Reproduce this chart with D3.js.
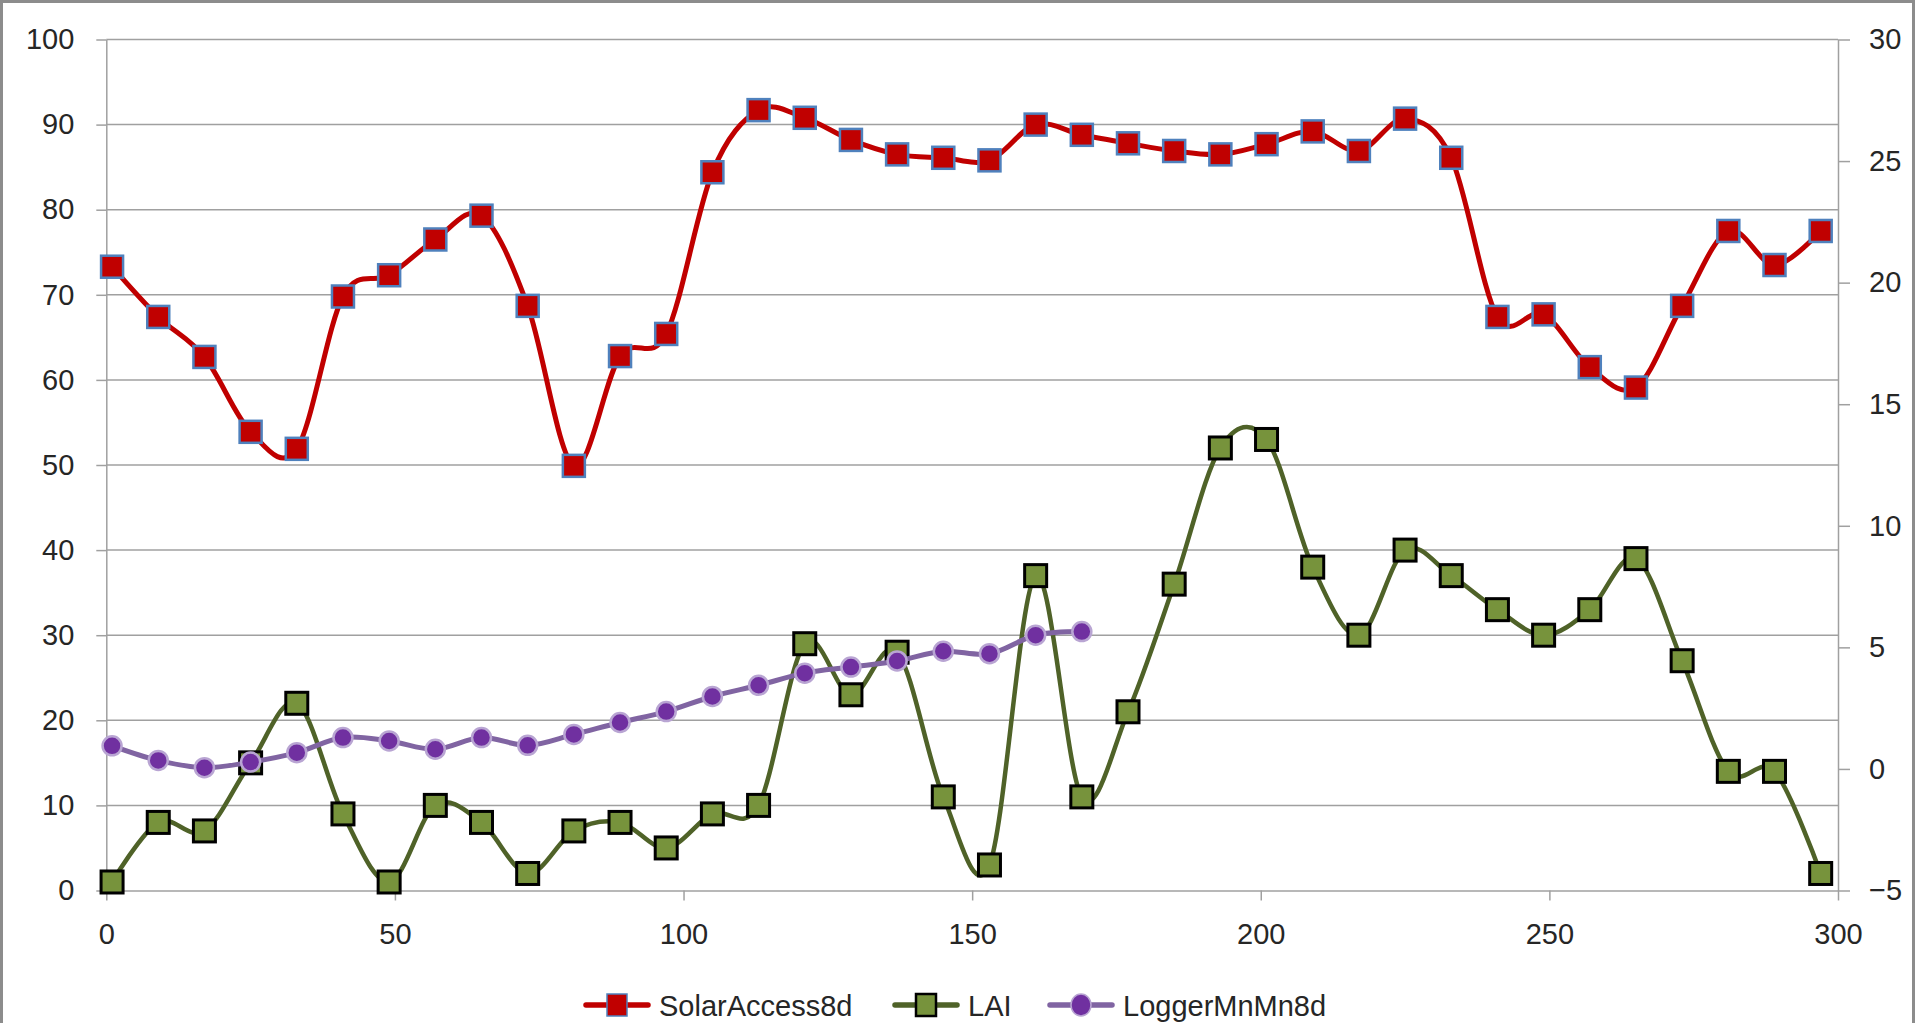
<!DOCTYPE html>
<html>
<head>
<meta charset="utf-8">
<script src="https://cdn.jsdelivr.net/npm/d3@7"></script>
<style>
  html, body { margin: 0; padding: 0; background: #ffffff; }
  svg { display: block; }
  text { font-family: "Liberation Sans", Arial, sans-serif; fill: #262626; }
</style>
</head>
<body>
<script>
// Day of year for each 8-day composite
const days = [1, 9, 17, 25, 33, 41, 49, 57, 65, 73, 81, 89, 97, 105, 113, 121, 129, 137, 145,
  153, 161, 169, 177, 185, 193, 201, 209, 217, 225, 233, 241, 249, 257, 265, 273, 281, 289, 297];

// Left axis series
const solarAccess8d = [73.3, 67.4, 62.7, 53.9, 51.9, 69.8, 72.3, 76.5, 79.3, 68.7, 49.9, 62.8,
  65.4, 84.4, 91.7, 90.8, 88.2, 86.5, 86.1, 85.8, 90.0, 88.8, 87.8, 86.9, 86.5, 87.7, 89.2,
  86.9, 90.7, 86.1, 67.4, 67.7, 61.5, 59.1, 68.7, 77.5, 73.5, 77.5];
const lai = [1, 8, 7, 15, 22, 9, 1, 10, 8, 2, 7, 8, 5, 9, 10, 29, 23, 28, 11, 3, 37, 11, 21, 36,
  52, 53, 38, 30, 40, 37, 33, 30, 33, 39, 27, 14, 14, 2];

// Right axis series (logger record ends at day 169)
const loggerMnMn8d = [0.95, 0.35, 0.05, 0.28, 0.67, 1.29, 1.15, 0.81, 1.29, 0.97, 1.42, 1.91,
  2.36, 2.98, 3.44, 3.94, 4.19, 4.44, 4.84, 4.74, 5.50, 5.65];

const xTicks = [0, 50, 100, 150, 200, 250, 300];
const leftTicks = [0, 10, 20, 30, 40, 50, 60, 70, 80, 90, 100];
const rightTicks = [-5, 0, 5, 10, 15, 20, 25, 30];
const seriesNames = ["SolarAccess8d", "LAI", "LoggerMnMn8d"];

const W = 1915, H = 1023;
const plot = { left: 106.3, right: 1838, top: 39.5, bottom: 890.5 };

const svg = d3.select("body").append("svg").attr("width", W).attr("height", H);

// Chart frame
svg.append("rect")
  .attr("x", 1.5).attr("y", 1.5).attr("width", W - 3).attr("height", H + 20)
  .attr("fill", "none").attr("stroke", "#8c8c8c").attr("stroke-width", 3);

const x = d3.scaleLinear().domain([0, 300]).range([plot.left, plot.right]);
const yL = d3.scaleLinear().domain([0, 100]).range([plot.bottom, plot.top]);
const yR = d3.scaleLinear().domain([-5, 30]).range([plot.bottom, plot.top]);

const gridColor = "#a0a0a0";

// Horizontal gridlines
svg.append("g").selectAll("line").data(leftTicks.filter(d => d > 0)).join("line")
  .attr("x1", plot.left).attr("x2", plot.right)
  .attr("y1", d => yL(d)).attr("y2", d => yL(d))
  .attr("stroke", gridColor).attr("stroke-width", 1.5);

function styleAxis(g) {
  g.select(".domain").attr("stroke", gridColor).attr("stroke-width", 1.5);
  g.selectAll(".tick line").attr("stroke", gridColor).attr("stroke-width", 1.5);
  g.selectAll(".tick text")
    .attr("fill", "#262626")
    .style("font-family", '"Liberation Sans", Arial, sans-serif')
    .style("font-size", "29px");
}

svg.append("g")
  .attr("transform", `translate(${plot.left},0)`)
  .call(d3.axisLeft(yL).tickValues(leftTicks).tickSize(10).tickSizeOuter(0).tickPadding(22))
  .call(styleAxis);

svg.append("g")
  .attr("transform", `translate(${plot.right},0)`)
  .call(d3.axisRight(yR).tickValues(rightTicks).tickSize(12).tickSizeOuter(0).tickPadding(19))
  .call(styleAxis);

svg.append("g")
  .attr("transform", `translate(0,${plot.bottom})`)
  .call(d3.axisBottom(x).tickValues(xTicks).tickSize(10).tickSizeOuter(0).tickPadding(23))
  .call(styleAxis);

const curve = d3.curveCardinal.tension(0);

const styles = {
  solar: { line: "#c00000", fill: "#c00000", stroke: "#4f81bd", width: 5 },
  lai: { line: "#4f6228", fill: "#77933c", stroke: "#000000", width: 4.5 },
  logger: { line: "#8064a2", fill: "#7030a0", stroke: "#b9a5d3", width: 5 }
};

// SolarAccess8d
const solarPts = days.map((d, i) => [d, solarAccess8d[i]]);
svg.append("path")
  .attr("d", d3.line().x(d => x(d[0])).y(d => yL(d[1])).curve(curve)(solarPts))
  .attr("fill", "none").attr("stroke", styles.solar.line).attr("stroke-width", styles.solar.width);
svg.append("g").selectAll("rect").data(solarPts).join("rect")
  .attr("x", d => x(d[0]) - 11).attr("y", d => yL(d[1]) - 11)
  .attr("width", 22).attr("height", 22)
  .attr("fill", styles.solar.fill).attr("stroke", styles.solar.stroke).attr("stroke-width", 2.5);

// LAI
const laiPts = days.map((d, i) => [d, lai[i]]);
svg.append("path")
  .attr("d", d3.line().x(d => x(d[0])).y(d => yL(d[1])).curve(curve)(laiPts))
  .attr("fill", "none").attr("stroke", styles.lai.line).attr("stroke-width", styles.lai.width);
svg.append("g").selectAll("rect").data(laiPts).join("rect")
  .attr("x", d => x(d[0]) - 11).attr("y", d => yL(d[1]) - 11)
  .attr("width", 22).attr("height", 22)
  .attr("fill", styles.lai.fill).attr("stroke", styles.lai.stroke).attr("stroke-width", 3);

// LoggerMnMn8d
const loggerPts = loggerMnMn8d.map((v, i) => [days[i], v]);
svg.append("path")
  .attr("d", d3.line().x(d => x(d[0])).y(d => yR(d[1])).curve(curve)(loggerPts))
  .attr("fill", "none").attr("stroke", styles.logger.line).attr("stroke-width", styles.logger.width);
svg.append("g").selectAll("circle").data(loggerPts).join("circle")
  .attr("cx", d => x(d[0])).attr("cy", d => yR(d[1])).attr("r", 9.5)
  .attr("fill", styles.logger.fill).attr("stroke", styles.logger.stroke).attr("stroke-width", 2.5);

// Legend
const legendY = 1005;
const legendItems = [
  { name: seriesNames[0], s: styles.solar, shape: "rect", x0: 586 },
  { name: seriesNames[1], s: styles.lai, shape: "rect", x0: 895 },
  { name: seriesNames[2], s: styles.logger, shape: "circle", x0: 1050 }
];
const lg = svg.append("g");
legendItems.forEach(item => {
  const g = lg.append("g").attr("transform", `translate(${item.x0},${legendY})`);
  g.append("line").attr("x1", 0).attr("x2", 62).attr("y1", 0).attr("y2", 0)
    .attr("stroke", item.s.line).attr("stroke-width", 5.5).attr("stroke-linecap", "round");
  if (item.shape === "rect") {
    g.append("rect").attr("x", 31 - 10).attr("y", -11).attr("width", 20).attr("height", 22)
      .attr("fill", item.s.fill).attr("stroke", item.s.stroke).attr("stroke-width", item.s.stroke === "#000000" ? 2.5 : 1.5);
  } else {
    g.append("ellipse").attr("cx", 31).attr("cy", 0).attr("rx", 10).attr("ry", 11)
      .attr("fill", item.s.fill).attr("stroke", item.s.stroke).attr("stroke-width", 1.5);
  }
  g.append("text").attr("x", 73).attr("y", 11)
    .style("font-size", "29px").text(item.name);
});
</script>
</body>
</html>
